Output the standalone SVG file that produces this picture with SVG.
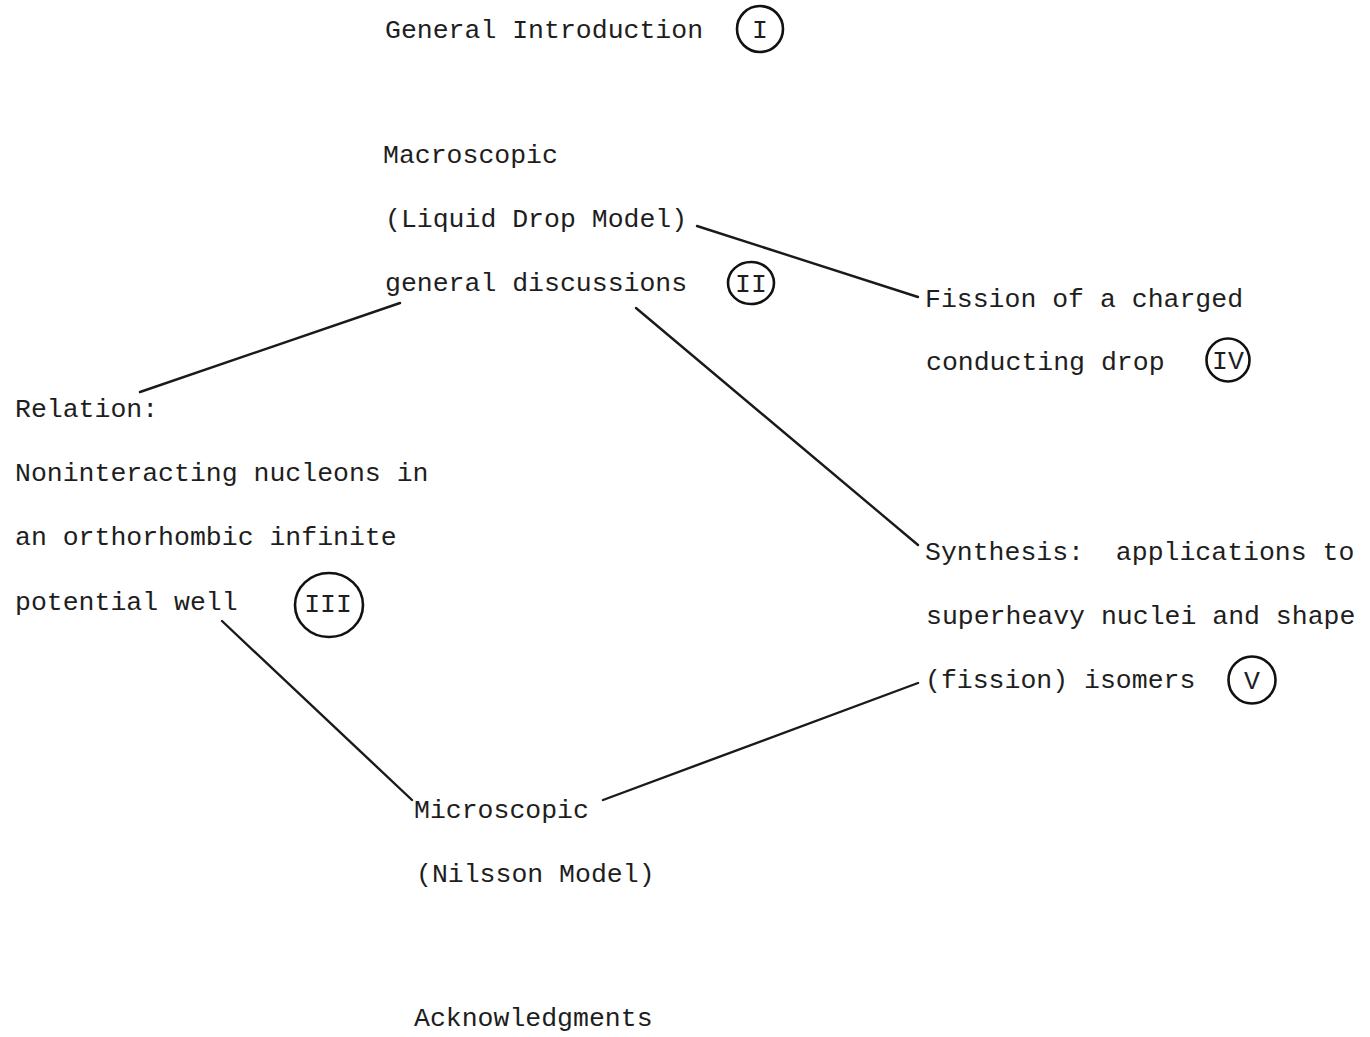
<svg xmlns="http://www.w3.org/2000/svg" width="1370" height="1037" viewBox="0 0 1370 1037">
<style>
text{font-family:"Liberation Mono","Courier New",monospace;font-size:26.5px;fill:#1e1e1e}
.num{text-anchor:middle}
.ring{fill:none;stroke:#111;stroke-width:2.6}
.conn line{stroke:#1a1a1a;stroke-width:2.4;stroke-linecap:round}
</style>
<rect width="1370" height="1037" fill="#fff"/>
<g id="connectors" class="conn">
<line x1="697" y1="226" x2="918" y2="297"/>
<line x1="400" y1="303" x2="140" y2="392"/>
<line x1="636" y1="308" x2="918" y2="545"/>
<line x1="222" y1="621" x2="412" y2="800"/>
<line x1="603" y1="800" x2="918" y2="683"/>
</g>
<g id="node-intro">
<text x="385" y="38">General Introduction</text>
<circle class="ring" cx="760" cy="29" r="23"/>
<text class="num" x="760" y="38">I</text>
</g>
<g id="node-macro">
<text x="383" y="163">Macroscopic</text>
<text x="385" y="227">(Liquid Drop Model)</text>
<text x="385" y="291">general discussions</text>
<ellipse class="ring" cx="751" cy="283" rx="23" ry="21"/>
<text class="num" x="751" y="292">II</text>
</g>
<g id="node-fission">
<text x="925" y="307">Fission of a charged</text>
<text x="926" y="370">conducting drop</text>
<circle class="ring" cx="1228" cy="360" r="21.5"/>
<text class="num" x="1228" y="369">IV</text>
</g>
<g id="node-relation">
<text x="15" y="417">Relation:</text>
<text x="15" y="481">Noninteracting nucleons in</text>
<text x="15" y="545">an orthorhombic infinite</text>
<text x="15" y="610">potential well</text>
<ellipse class="ring" cx="329" cy="605" rx="34" ry="32"/>
<text class="num" x="328" y="612">III</text>
</g>
<g id="node-synthesis">
<text x="925" y="560" xml:space="preserve">Synthesis:  applications to</text>
<text x="926" y="624">superheavy nuclei and shape</text>
<text x="925" y="688">(fission) isomers</text>
<circle class="ring" cx="1252" cy="680" r="23.5"/>
<text class="num" x="1252" y="689">V</text>
</g>
<g id="node-micro">
<text x="414" y="818">Microscopic</text>
<text x="416" y="882">(Nilsson Model)</text>
</g>
<g id="node-ack">
<text x="414" y="1026">Acknowledgments</text>
</g>
</svg>
